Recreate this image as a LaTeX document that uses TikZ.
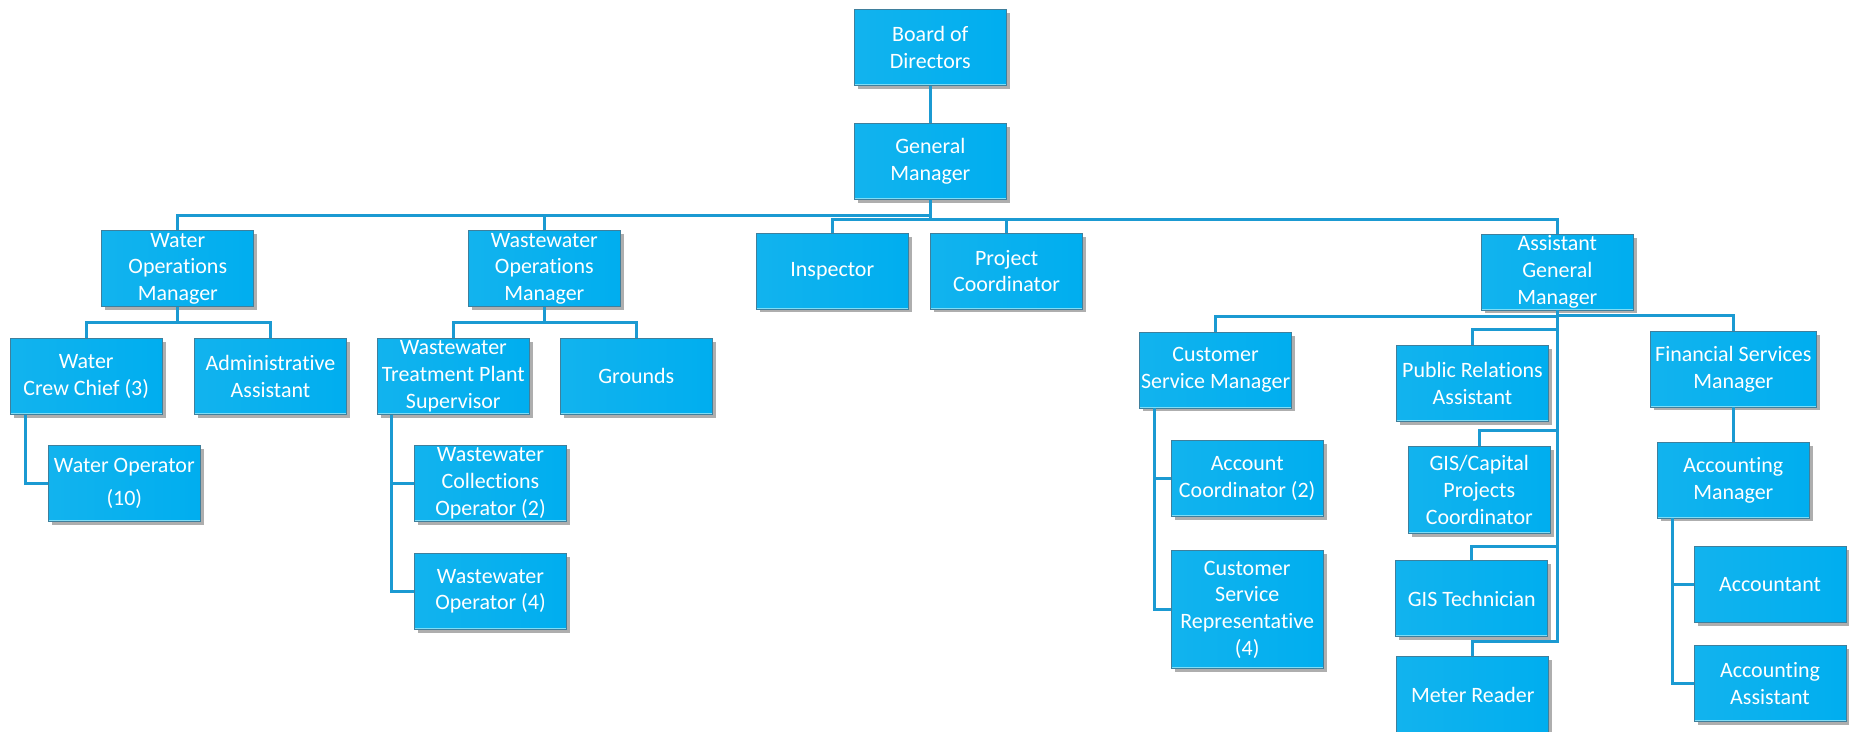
\documentclass[tikz,border=0pt]{standalone}
\usepackage{fontspec}
\setmainfont{Carlito}[Ligatures=NoCommon]
\usetikzlibrary{shadows}
\definecolor{boxblue}{HTML}{00AEEF}
\definecolor{boxlight}{HTML}{12B3EE}
\definecolor{boxedge}{HTML}{3F7F9C}
\definecolor{boxrim}{HTML}{7FDDF6}
\definecolor{linkblue}{HTML}{1B9AD2}

\begin{document}
\begin{tikzpicture}[x=0.02cm, y=-0.02cm,
    box/.style={draw=boxedge, line width=0.4pt, left color=boxlight, right color=boxblue,
      text=white, align=center, inner sep=0pt, minimum width=3.04cm, minimum height=1.52cm,
      font=\fontsize{12.5}{15.2}\selectfont,
      drop shadow={shadow xshift=0.07cm, shadow yshift=-0.07cm, opacity=0.45, fill=black!70},
      path picture={\draw[boxrim, line width=1.2pt] (path picture bounding box.south west)
        -- (path picture bounding box.south east);}},
    conn/.style={draw=linkblue, line width=0.06cm}]
      \useasboundingbox (0,0) rectangle (1849,732);
      \draw
        (930.3,47.2) node[box] (board){Board of\\Directors}
        (930.3,161.2) node[box] (gm){General\\Manager}
        (177.8,268.7) node[box] (wom){Water\\Operations\\Manager}
        (544.3,268.7) node[box] (wwom){Wastewater\\Operations\\Manager}
        (832.3,271) node[box] (insp){Inspector}
        (1006.6,271) node[box] (projc){Project\\Coordinator}
        (1557.3,272) node[box] (agm){Assistant\\General\\Manager}
        (86.2,376.3) node[box] (crew){Water\\Crew Chief (3)}
        (270.5,376.3) node[box] (admin){Administrative\\Assistant}
        (453.3,376.3) node[box] (wwtp){Wastewater\\Treatment Plant\\Supervisor}
        (636.3,376.3) node[box] (grounds){Grounds}
        (124.3,483.3) node[box] (wop){Water Operator\\[4pt](10)}
        (490.5,483.3) node[box] (wwcoll){Wastewater\\Collections\\Operator (2)}
        (490.5,591.3) node[box] (wwop){Wastewater\\Operator (4)}
        (1215.6,370) node[box] (csm){Customer\\Service Manager}
        (1247.2,478.4) node[box] (acccoord){Account\\Coordinator (2)}
        (1247.2,609.5) node[box, minimum height=2.36cm] (csr){Customer\\Service\\Representative\\(4)}
        (1472.5,383.2) node[box] (pra){Public Relations\\Assistant}
        (1479.3,489.8) node[box, minimum width=2.85cm, minimum height=1.75cm] (gisc){GIS/Capital\\Projects\\Coordinator}
        (1471.8,598.5) node[box] (gist){GIS Technician}
        (1472.8,694.8) node[box] (meter){Meter Reader}
        (1733.3,369) node[box, minimum width=3.33cm] (fsm){Financial Services\\Manager}
        (1733.3,480) node[box] (accm){Accounting\\Manager}
        (1770,584.7) node[box] (acct){Accountant}
        (1770,683.5) node[box] (acca){Accounting\\Assistant};
      \begin{scope}[conn]
        \draw (board.south) -- (gm.north);
        \draw (gm.south) -- ++(0,16) -| (wom.north);
        \draw (gm.south) -- ++(0,16) -| (wwom.north);
        \draw (gm.south) -- ++(0,19.5) -| (insp.north);
        \draw (gm.south) -- ++(0,19.5) -| (projc.north);
        \draw (gm.south) -- ++(0,19.5) -| (agm.north);
        \draw (wom.south) -- ++(0,15.6) -| (crew.north);
        \draw (wom.south) -- ++(0,15.6) -| (admin.north);
        \draw (wwom.south) -- ++(0,15.6) -| (wwtp.north);
        \draw (wwom.south) -- ++(0,15.6) -| (grounds.north);
        \draw ([xshift=0.32cm]crew.south west) |- (wop.west);
        \draw ([xshift=0.3cm]wwtp.south west) |- (wwcoll.west);
        \draw ([xshift=0.3cm]wwtp.south west) |- (wwop.west);
        \draw (agm.south) -- ++(0,6.5) -| (csm.north);
        \draw (agm.south) -- ++(0,5.5) -| (fsm.north);
        \draw (agm.south) -- ++(0,19) -| (pra.north);
        \draw (agm.south) -- ++(0,120.4) -| (gisc.north);
        \draw (agm.south) -- ++(0,235.7) -| (gist.north);
        \draw (agm.south) -- ++(0,330.7) -| (meter.north);
        \draw ([xshift=0.31cm]csm.south west) |- (acccoord.west);
        \draw ([xshift=0.31cm]csm.south west) |- (csr.west);
        \draw (fsm.south) -- (accm.north);
        \draw ([xshift=0.31cm]accm.south west) |- (acct.west);
        \draw ([xshift=0.31cm]accm.south west) |- (acca.west);
      \end{scope}
    \end{tikzpicture}
\end{document}
